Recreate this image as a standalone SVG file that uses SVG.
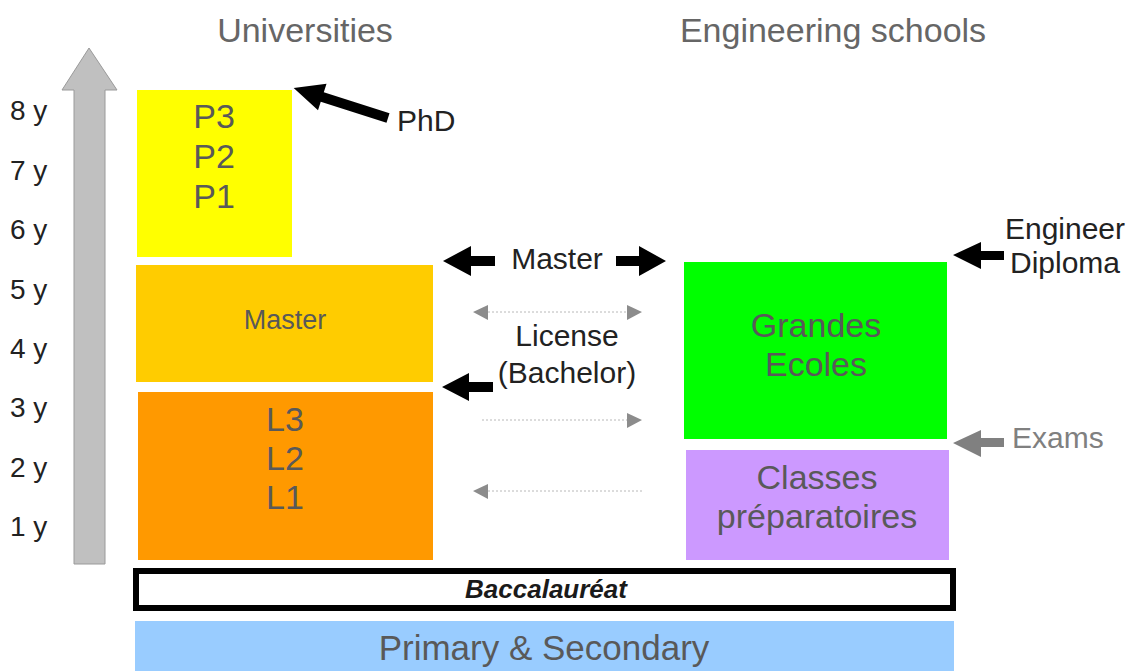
<svg xmlns="http://www.w3.org/2000/svg" width="1134" height="671" viewBox="0 0 1134 671">
<style>
text{font-family:"Liberation Sans",Arial,sans-serif}
.box{font-size:34px;fill:#595959;text-anchor:middle}
.title{font-size:34px;fill:#666666;text-anchor:middle}
.yr{font-size:28px;fill:#222222}
.lbl{font-size:30px;fill:#222222}
.blk{fill:#000000}
.gry{fill:#808080}
.dot{stroke:#b8b8b8;stroke-width:1;stroke-dasharray:2 2;fill:none}
.dhead{fill:#8c8c8c}
</style>
<rect width="1134" height="671" fill="#ffffff"/>

<g id="titles">
<text class="title" x="305" y="42">Universities</text>
<text class="title" x="833" y="42">Engineering schools</text>
</g>

<g id="timeline">
<path d="M89,48 L117,90 L105,90 L105,564 L74,564 L74,90 L62,90 Z" fill="#c0c0c0" stroke="#9a9a9a" stroke-width="1"/>
<text class="yr" x="10" y="120">8 y</text>
<text class="yr" x="10" y="180">7 y</text>
<text class="yr" x="10" y="239">6 y</text>
<text class="yr" x="10" y="299">5 y</text>
<text class="yr" x="10" y="358">4 y</text>
<text class="yr" x="10" y="417">3 y</text>
<text class="yr" x="10" y="477">2 y</text>
<text class="yr" x="10" y="536">1 y</text>
</g>

<g id="phd-box">
<rect x="137" y="90" width="155" height="167" fill="#ffff00"/>
<text class="box" x="214" y="128">P3</text>
<text class="box" x="214" y="168">P2</text>
<text class="box" x="214" y="208">P1</text>
</g>

<g id="master-box">
<rect x="136" y="265" width="297" height="117" fill="#ffcc00"/>
<text class="box" x="285" y="329" style="font-size:27px">Master</text>
</g>

<g id="licence-box">
<rect x="138" y="392" width="295" height="168" fill="#ff9900"/>
<text class="box" x="285" y="431">L3</text>
<text class="box" x="285" y="470">L2</text>
<text class="box" x="285" y="509">L1</text>
</g>

<g id="grandes-ecoles">
<rect x="684" y="262" width="263" height="177" fill="#00ff00"/>
<text class="box" x="816" y="337">Grandes</text>
<text class="box" x="816" y="376">Ecoles</text>
</g>

<g id="classes-prepa">
<rect x="686" y="450" width="263" height="110" fill="#cc99ff"/>
<text class="box" x="817" y="489">Classes</text>
<text class="box" x="817" y="528">préparatoires</text>
</g>

<g id="baccalaureat">
<rect x="136" y="571" width="817" height="37" fill="#ffffff" stroke="#000000" stroke-width="6"/>
<text x="546" y="598" style="font-size:26px;font-weight:bold;font-style:italic;fill:#1a1a1a;text-anchor:middle">Baccalauréat</text>
</g>

<g id="primary-secondary">
<rect x="135" y="621" width="819" height="50" fill="#99ccff"/>
<text class="box" x="544" y="660" style="font-size:35px">Primary &amp; Secondary</text>
</g>

<g id="labels">
<text class="lbl" x="397" y="131">PhD</text>
<text class="lbl" x="557" y="269" text-anchor="middle">Master</text>
<text class="lbl" x="567" y="346" text-anchor="middle">License</text>
<text class="lbl" x="567" y="383" text-anchor="middle">(Bachelor)</text>
<text class="lbl" x="1065" y="239" text-anchor="middle">Engineer</text>
<text class="lbl" x="1065" y="273" text-anchor="middle">Diploma</text>
<text class="lbl" x="1012" y="448" style="fill:#808080">Exams</text>
</g>

<g id="connectors">
<!-- PhD arrow -->
<path class="blk" transform="translate(388,118) rotate(197.7)" d="M0,-5 L69,-5 L69,-14 L99,0 L69,14 L69,5 L0,5 Z"/>
<!-- Master arrows -->
<path class="blk" d="M443,261 L471,246 L471,256 L495,256 L495,266 L471,266 L471,276 Z"/>
<path class="blk" d="M666,261 L639,246 L639,256 L616,256 L616,266 L639,266 L639,276 Z"/>
<!-- License arrow -->
<path class="blk" d="M442,387 L469,373 L469,382 L493,382 L493,392 L469,392 L469,401 Z"/>
<!-- Engineer Diploma arrow -->
<path class="blk" d="M953,255 L981,242 L981,251 L1004,251 L1004,260 L981,260 L981,269 Z"/>
<!-- Exams arrow -->
<path class="gry" d="M953,443 L981,430 L981,438 L1004,438 L1004,447 L981,447 L981,457 Z"/>
<!-- dotted double arrow -->
<line class="dot" x1="488" y1="312" x2="627" y2="312"/>
<path class="dhead" d="M473,312 L488,305 L488,320 Z"/>
<path class="dhead" d="M642,312 L627,305 L627,320 Z"/>
<!-- dotted right arrow -->
<line class="dot" x1="482" y1="420" x2="627" y2="420"/>
<path class="dhead" d="M642,420 L627,413 L627,428 Z"/>
<!-- dotted left arrow -->
<line class="dot" x1="488" y1="491" x2="643" y2="491"/>
<path class="dhead" d="M473,491 L488,484 L488,499 Z"/>
</g>
</svg>
